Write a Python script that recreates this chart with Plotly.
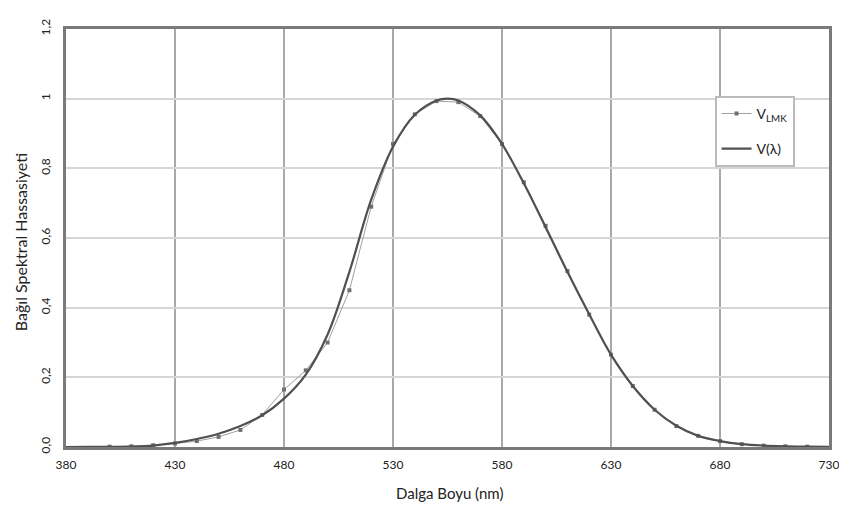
import plotly.graph_objects as go

wavelength = [380, 390, 400, 410, 420, 430, 440, 450, 460, 470, 480, 490, 500, 510, 520,
              530, 540, 550, 555, 560, 570, 580, 590, 600, 610, 620, 630, 640, 650, 660,
              670, 680, 690, 700, 710, 720, 730]
v_lambda = [0.00004, 0.00012, 0.0004, 0.0012, 0.004, 0.0116, 0.023, 0.038, 0.06, 0.091,
            0.139, 0.208, 0.323, 0.503, 0.71, 0.862, 0.954, 0.995, 1.0, 0.995, 0.952,
            0.87, 0.757, 0.631, 0.503, 0.381, 0.265, 0.175, 0.107, 0.061, 0.032, 0.017,
            0.0082, 0.0041, 0.0021, 0.00105, 0.00052]

lmk_wavelength = [400, 410, 420, 430, 440, 450, 460, 470, 480, 490, 500, 510, 520, 530,
                  540, 550, 560, 570, 580, 590, 600, 610, 620, 630, 640, 650, 660, 670,
                  680, 690, 700, 710, 720]
v_lmk = [0.001, 0.002, 0.005, 0.01, 0.017, 0.029, 0.049, 0.092, 0.165, 0.22, 0.30, 0.45,
         0.69, 0.87, 0.955, 0.993, 0.99, 0.95, 0.87, 0.76, 0.635, 0.505, 0.38, 0.265,
         0.175, 0.107, 0.06, 0.032, 0.017, 0.008, 0.004, 0.002, 0.001]

y_ticks = [0, 0.2, 0.4, 0.6, 0.8, 1.0, 1.2]
y_tick_text = ["0,0", "0,2", "0,4", "0,6", "0,8", "1", "1,2"]
x_ticks = [380, 430, 480, 530, 580, 630, 680, 730]
x_title = "Dalga Boyu (nm)"
y_title = "Bağıl Spektral Hassasiyeti"

fig = go.Figure()
fig.add_trace(go.Scatter(
    x=lmk_wavelength, y=v_lmk, mode="lines+markers", name="V<sub>LMK</sub>",
    line=dict(color="#a0a0a0", width=1),
    marker=dict(symbol="square", size=4, color="#707070"),
    legendgroup="a",
))
fig.add_trace(go.Scatter(
    x=wavelength, y=v_lambda, mode="lines", name="V(λ)",
    line=dict(color="#505050", width=2.2, shape="spline"),
    legendgroup="b",
))

font = "Lato, Open Sans, sans-serif"
fig.update_layout(
    width=831, height=494,
    margin=dict(l=58, r=10, t=21, b=55),
    paper_bgcolor="white", plot_bgcolor="white",
    font=dict(family=font, size=12, color="#222"),
    legend=dict(
        x=0.85, y=0.84, xanchor="left", yanchor="top",
        bgcolor="white", bordercolor="#bbbbbb", borderwidth=2,
        traceorder="grouped", tracegroupgap=14, entrywidth=72,
        font=dict(size=14, color="#222"),
    ),
    xaxis=dict(
        range=[380, 730], tickvals=x_ticks, ticks="outside", ticklen=5,
        tickcolor="rgba(0,0,0,0)", automargin=False, ticklabeloverflow="allow",
        showgrid=True, gridcolor="#a8a8a8", gridwidth=2,
        showline=True, linecolor="#7a7a7a", linewidth=3, mirror=True,
        zeroline=False, tickfont=dict(size=12),
    ),
    yaxis=dict(
        range=[0, 1.2], tickvals=y_ticks, ticktext=y_tick_text,
        ticks="outside", ticklen=8, tickcolor="rgba(0,0,0,0)",
        tickangle=-90, automargin=False,
        showgrid=True, gridcolor="#d6d6d6", gridwidth=2,
        showline=True, linecolor="#7a7a7a", linewidth=3, mirror=True,
        zeroline=False, tickfont=dict(size=12),
    ),
    annotations=[
        dict(text=x_title, xref="paper", yref="paper", x=0.502, y=0,
             yshift=-46, xanchor="center", yanchor="middle", showarrow=False,
             font=dict(size=15)),
        dict(text=y_title, xref="paper", yref="paper", x=0, y=0.49,
             xshift=-46, xanchor="center", yanchor="middle", showarrow=False,
             textangle=-90, font=dict(size=16)),
    ],
)

fig.write_html("out.html")
